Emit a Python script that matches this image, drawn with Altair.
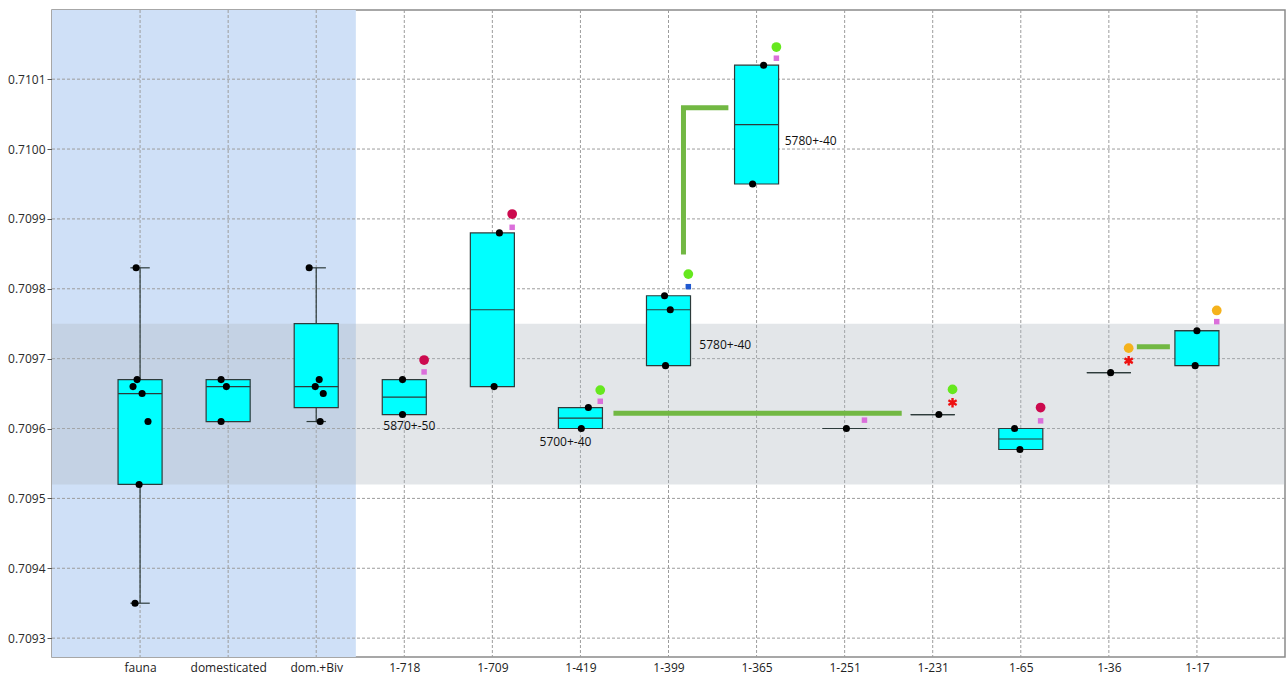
import json
import altair as alt
import pandas as pd

# ---- sample groups and box statistics --------------------------------------
categories = ["fauna", "domesticated", "dom.+Biv", "1-718", "1-709", "1-419",
              "1-399", "1-365", "1-251", "1-231", "1-65", "1-36", "1-17"]
q1 = [0.70952, 0.70961, 0.70963, 0.70962, 0.70966, 0.70960, 0.70969,
      0.70995, 0.70960, 0.70962, 0.70957, 0.70968, 0.70969]
medians = [0.70965, 0.70966, 0.70966, 0.709645, 0.70977, 0.709615, 0.70977,
           0.710035, 0.70960, 0.70962, 0.709585, 0.70968, 0.70974]
q3 = [0.70967, 0.70967, 0.70975, 0.70967, 0.70988, 0.70963, 0.70979,
      0.71012, 0.70960, 0.70962, 0.70960, 0.70968, 0.70974]

whisker_cats = ["fauna", "dom.+Biv"]
whisker_low = [0.70935, 0.70961]
whisker_high = [0.70983, 0.70983]

# individual measurements (with a small horizontal jitter per point)
sample_cats = ["fauna"] * 7 + ["domesticated"] * 3 + ["dom.+Biv"] * 5 + \
    ["1-718"] * 2 + ["1-709"] * 2 + ["1-419"] * 2 + ["1-399"] * 3 + \
    ["1-365"] * 2 + ["1-251"] + ["1-231"] + ["1-65"] * 2 + ["1-36"] + ["1-17"] * 2
sample_vals = [0.70983, 0.70967, 0.70966, 0.70965, 0.70961, 0.70952, 0.70935,
               0.70967, 0.70966, 0.70961,
               0.70983, 0.70967, 0.70966, 0.70965, 0.70961,
               0.70967, 0.70962,
               0.70988, 0.70966,
               0.70963, 0.70960,
               0.70979, 0.70977, 0.70969,
               0.71012, 0.70995,
               0.70960,
               0.70962,
               0.70960, 0.70957,
               0.70968,
               0.70974, 0.70969]
sample_jitter = [-0.045, -0.034, -0.08, 0.023, 0.09, -0.011, -0.057,
                 -0.08, -0.02, -0.08,
                 -0.08, 0.034, -0.011, 0.08, 0.045,
                 -0.02, -0.02,
                 0.08, 0.02,
                 0.09, 0.01,
                 -0.045, 0.02, -0.034,
                 0.08, -0.045,
                 0.02,
                 0.07,
                 -0.07, -0.01,
                 0.02,
                 0.0, -0.02]

# reference markers beside the boxes
circle_cats = ["1-718", "1-709", "1-419", "1-399", "1-365", "1-231", "1-65", "1-36", "1-17"]
circle_vals = [0.709698, 0.709907, 0.709655, 0.709821, 0.710146, 0.709656, 0.70963, 0.709715, 0.709769]
circle_colors = ["#cc0a4e", "#cc0a4e", "#66e81e", "#66e81e", "#66e81e", "#66e81e",
                 "#cc0a4e", "#f5b21c", "#f5b21c"]

square_cats = ["1-718", "1-709", "1-419", "1-399", "1-365", "1-251", "1-65", "1-17"]
square_vals = [0.709681, 0.709888, 0.709639, 0.709803, 0.71013, 0.709612, 0.709611, 0.709753]
square_colors = ["#db6fdb", "#db6fdb", "#db6fdb", "#1f58d0", "#db6fdb", "#db6fdb",
                 "#db6fdb", "#db6fdb"]

star_cats = ["1-231", "1-36"]
star_vals = [0.709637, 0.709697]

# radiocarbon age annotations
age_texts = ["5870+-50", "5700+-40", "5780+-40", "5780+-40"]
age_cats = ["1-718", "1-419", "1-399", "1-365"]
age_vals = [0.709603, 0.709581, 0.70972, 0.710011]
age_shift = [0.057, -0.17, 0.35, 0.32]
age_align = ["center", "center", "left", "left"]

# connector lines (x in group-index units)
link_ids = [1, 1, 2, 2, 2, 3, 3]
link_x = [6.375, 9.648, 7.17, 7.17, 7.68, 12.318, 12.693]
link_y = [0.709622, 0.709622, 0.709849, 0.710059, 0.710059, 0.709717, 0.709717]

y_ticks = [0.7093, 0.7094, 0.7095, 0.7096, 0.7097, 0.7098, 0.7099, 0.7100, 0.7101]
y_domain = [0.709273, 0.710199]
x_domain = [0, 14]
baseline_span = [0, 3.45]
reference_band = [0.70952, 0.70975]

# ---- tables ---------------------------------------------------------------
pos = {c: i + 1 for i, c in enumerate(categories)}
W, H = 1233, 647
HALF = 0.25
CAP = 0.11
MARK_SHIFT = 0.225

boxes = pd.DataFrame({"cat": categories, "q1": q1, "med": medians, "q3": q3})
boxes["pos"] = boxes["cat"].map(pos)
boxes["left"] = boxes["pos"] - HALF
boxes["right"] = boxes["pos"] + HALF

whiskers = pd.DataFrame({"cat": whisker_cats, "lo": whisker_low, "hi": whisker_high})
whiskers["pos"] = whiskers["cat"].map(pos)
caps = pd.concat([
    pd.DataFrame({"pos": whiskers["pos"], "v": whiskers["lo"]}),
    pd.DataFrame({"pos": whiskers["pos"], "v": whiskers["hi"]}),
])
caps["left"] = caps["pos"] - CAP
caps["right"] = caps["pos"] + CAP

samples = pd.DataFrame({"cat": sample_cats, "v": sample_vals, "j": sample_jitter})
samples["px"] = samples["cat"].map(pos) + samples["j"]

circles = pd.DataFrame({"cat": circle_cats, "v": circle_vals, "c": circle_colors})
circles["px"] = circles["cat"].map(pos) + MARK_SHIFT
squares = pd.DataFrame({"cat": square_cats, "v": square_vals, "c": square_colors})
squares["px"] = squares["cat"].map(pos) + MARK_SHIFT
stars = pd.DataFrame({"cat": star_cats, "v": star_vals})
stars["px"] = stars["cat"].map(pos) + MARK_SHIFT

ages = pd.DataFrame({"t": age_texts, "cat": age_cats, "v": age_vals,
                     "s": age_shift, "a": age_align})
ages["px"] = ages["cat"].map(pos) + ages["s"]

links = pd.DataFrame({"seg": link_ids, "x": link_x, "y": link_y})
links["ord"] = range(len(links))

grid_x = pd.DataFrame({"pos": list(range(1, len(categories) + 1))})
grid_y = pd.DataFrame({"t": y_ticks})
span = pd.DataFrame({"x0": [baseline_span[0]], "x1": [baseline_span[1]]})
band = pd.DataFrame({"x0": [x_domain[0]], "x1": [x_domain[1]],
                     "y0": [reference_band[0]], "y1": [reference_band[1]]})

# ---- shared scales / axes -------------------------------------------------
xs = alt.Scale(domain=x_domain, nice=False, zero=False)
ys = alt.Scale(domain=y_domain, nice=False, zero=False)
label_expr = json.dumps(categories) + "[datum.value - 1]"
x_axis = alt.Axis(values=list(range(1, len(categories) + 1)), labelExpr=label_expr,
                  ticks=False, domain=False, grid=False, title=None,
                  labelFont="Open Sans", labelFontSize=12, labelColor="#222",
                  labelPadding=5)
y_axis = alt.Axis(values=y_ticks, format=".4f", grid=False, title=None,
                  labelFont="Open Sans", labelFontSize=12, labelColor="#2a2a2a",
                  tickSize=5, tickColor="#555", domain=False, labelPadding=2)


def X(field):
    return alt.X(field, type="quantitative", scale=xs, axis=x_axis)


def Y(field):
    return alt.Y(field, type="quantitative", scale=ys, axis=y_axis)


DASH = [3, 2]
GRID = "#9c9c9c"
EDGE = "#2d3b3b"

blue_region = alt.Chart(span).mark_rect(color="#cfe0f7").encode(
    x=X("x0"), x2="x1", y=alt.value(0), y2=alt.value(H))

grid_v = alt.Chart(grid_x).mark_rule(color=GRID, strokeDash=DASH, strokeWidth=1).encode(
    x=X("pos"), y=alt.value(0), y2=alt.value(H))

grid_h = alt.Chart(grid_y).mark_rule(color=GRID, strokeDash=DASH, strokeWidth=1).encode(
    y=Y("t"), x=alt.value(0), x2=alt.value(W))

grey_band = alt.Chart(band).mark_rect(color="#b0b8c0", opacity=0.35).encode(
    x=X("x0"), x2="x1", y=Y("y0"), y2="y1")

connectors = alt.Chart(links).mark_line(
    color="#72b843", strokeWidth=5, strokeCap="butt", strokeJoin="miter").encode(
    x=X("x"), y=Y("y"), detail="seg:N", order="ord:Q")

whisker_lines = alt.Chart(whiskers).mark_rule(color=EDGE, strokeWidth=1.2).encode(
    x=X("pos"), y=Y("lo"), y2="hi")

whisker_caps = alt.Chart(caps).mark_rule(color=EDGE, strokeWidth=1.2).encode(
    x=X("left"), x2="right", y=Y("v"))

box_rects = alt.Chart(boxes).mark_rect(fill="#00ffff", stroke=EDGE, strokeWidth=1.2).encode(
    x=X("left"), x2="right", y=Y("q1"), y2="q3")

median_lines = alt.Chart(boxes).mark_rule(color=EDGE, strokeWidth=1.2).encode(
    x=X("left"), x2="right", y=Y("med"))

sample_pts = alt.Chart(samples).mark_circle(color="black", size=50, opacity=1).encode(
    x=X("px"), y=Y("v"))

circle_pts = alt.Chart(circles).mark_circle(size=95, opacity=1).encode(
    x=X("px"), y=Y("v"), color=alt.Color("c:N", scale=None))

square_pts = alt.Chart(squares).mark_square(size=30, opacity=1).encode(
    x=X("px"), y=Y("v"), color=alt.Color("c:N", scale=None))

ASTERISK = "M0,-1L0,1M-0.87,-0.5L0.87,0.5M-0.87,0.5L0.87,-0.5"
star_pts = alt.Chart(stars).mark_point(
    shape=ASTERISK, filled=False, stroke="#ee1111", strokeWidth=2.4, size=90, opacity=1).encode(
    x=X("px"), y=Y("v"))

age_center = alt.Chart(ages).transform_filter("datum.a == 'center'").mark_text(
    font="Open Sans", fontSize=12, color="#111", align="center", baseline="middle").encode(
    x=X("px"), y=Y("v"), text="t:N")
age_left = alt.Chart(ages).transform_filter("datum.a == 'left'").mark_text(
    font="Open Sans", fontSize=12, color="#111", align="left", baseline="middle").encode(
    x=X("px"), y=Y("v"), text="t:N")

chart = alt.layer(
    blue_region, grid_v, grid_h, grey_band, connectors,
    whisker_lines, whisker_caps, box_rects, median_lines,
    sample_pts, circle_pts, square_pts, star_pts, age_center, age_left,
).properties(
    width=W, height=H,
    autosize=alt.AutoSizeParams(type="none"),
    padding={"left": 52, "top": 10, "right": 2, "bottom": 20},
    background="white",
).configure_view(
    stroke="#8a8a8a", strokeWidth=1.5,
)

chart.save("out.html", embed_options={"renderer": "svg", "actions": False})
